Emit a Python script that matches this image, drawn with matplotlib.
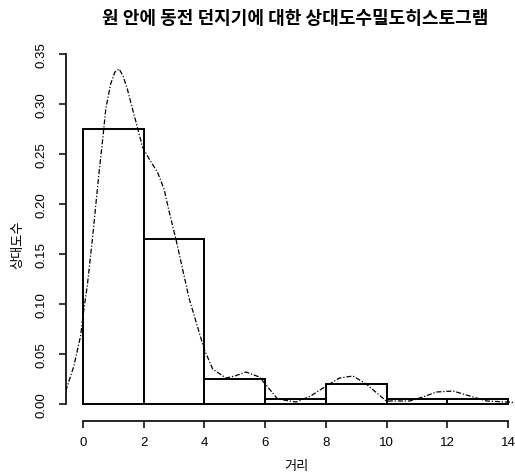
"""Relative-frequency histogram of coin toss distances with a density curve."""

import matplotlib

matplotlib.use("Agg")
import matplotlib.pyplot as plt

KR_FONT = ["Noto Sans CJK KR", "DejaVu Sans"]
NUM_FONT = "Liberation Sans"

# histogram: bins of width 2, heights are relative frequency / bin width
bin_edges = [0, 2, 4, 6, 8, 10, 12, 14]
rel_freq = [0.275, 0.165, 0.025, 0.005, 0.02, 0.005, 0.005]

# kernel density estimate of the same sample
dens_x = [-0.57, -0.30, -0.08, 0.03, 0.14, 0.31, 0.53, 0.64, 0.75, 0.91,
          1.05, 1.19, 1.32, 1.46, 1.63, 1.79, 1.96, 2.18, 2.45, 2.67,
          2.84, 3.06, 3.50, 3.99, 4.27, 4.71, 5.00, 5.37, 5.81, 6.14,
          6.41, 7.02, 7.50, 8.01, 8.45, 8.89, 9.33, 9.99, 10.76, 11.20,
          11.64, 12.19, 12.74, 13.30, 13.95, 14.56]
dens_y = [0.013, 0.038, 0.068, 0.095, 0.118, 0.165, 0.232, 0.262, 0.295, 0.320,
          0.332, 0.335, 0.328, 0.315, 0.295, 0.277, 0.257, 0.245, 0.232, 0.215,
          0.192, 0.165, 0.105, 0.055, 0.035, 0.026, 0.028, 0.032, 0.027, 0.015,
          0.005, 0.002, 0.008, 0.018, 0.026, 0.028, 0.020, 0.003, 0.003, 0.007,
          0.012, 0.013, 0.008, 0.003, 0.002, 0.001]

x_ticks = [0, 2, 4, 6, 8, 10, 12, 14]
y_ticks = [0.00, 0.05, 0.10, 0.15, 0.20, 0.25, 0.30, 0.35]

W, H = 515, 477
fig = plt.figure(figsize=(W / 100, H / 100), dpi=100)
# plot region in pixels (left, top, right, bottom); R pads the range by 4%
left, top, right, bottom = 66, 41, 525, 419
ax = fig.add_axes([left / W, (H - bottom) / H, (right - left) / W, (bottom - top) / H])
ax.set_xlim(-0.56, 14.56)
ax.set_ylim(-0.014, 0.364)

widths = [b - a for a, b in zip(bin_edges[:-1], bin_edges[1:])]
ax.bar(bin_edges[:-1], rel_freq, width=widths, align="edge",
       facecolor="white", edgecolor="black", linewidth=1.4, zorder=2)
ax.plot(dens_x, dens_y, color="black", linewidth=0.9,
        linestyle=(0, (4, 1.5, 1, 1.5)), zorder=3)

# R-style detached axes
for side in ("top", "right"):
    ax.spines[side].set_visible(False)
ax.spines["left"].set_bounds(0, 0.35)
ax.spines["bottom"].set_bounds(0, 14)
ax.spines["bottom"].set_position(("outward", 2))
for side in ("left", "bottom"):
    ax.spines[side].set_linewidth(1.2)

ax.set_xticks(x_ticks)
ax.set_xticklabels([str(t) for t in x_ticks], fontfamily=NUM_FONT, fontsize=9.5)
ax.set_yticks(y_ticks)
ax.set_yticklabels([f"{t:.2f}" for t in y_ticks], fontfamily=NUM_FONT,
                   fontsize=9.5, rotation=90, va="center")
ax.tick_params(axis="both", direction="out", length=5, width=1.1)
ax.tick_params(axis="x", pad=6)
ax.tick_params(axis="y", pad=8)

fig.text((left + right) / 2 / W, 1 - 18 / H, "원 안에 동전 던지기에 대한 상대도수밀도히스토그램",
         ha="center", va="center", fontsize=13, fontweight="bold", family=KR_FONT)
fig.text(((84 + 508) / 2) / W, 1 - 467 / H, "거리", ha="center", va="center",
         fontsize=9.5, family=KR_FONT)
fig.text(18 / W, 1 - 245 / H, "상대도수", ha="center", va="center",
         rotation=90, fontsize=9.5, family=KR_FONT)

fig.savefig("out.png", dpi=100)
